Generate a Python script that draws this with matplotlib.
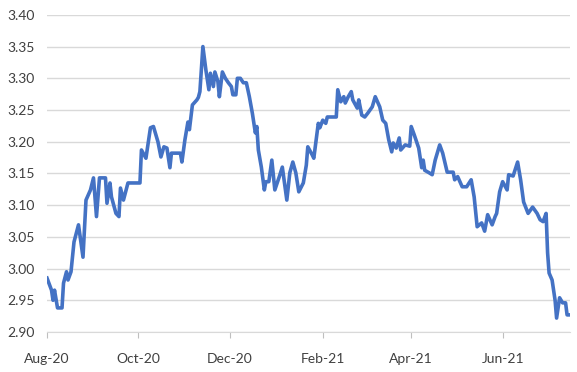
import matplotlib
matplotlib.use('Agg')
from matplotlib import pyplot as plt
import matplotlib.dates as mdates
import pandas as pd

dates = [
    '2020-08-01', '2020-08-04', '2020-08-05', '2020-08-06', '2020-08-08', '2020-08-11',
    '2020-08-12', '2020-08-14', '2020-08-15', '2020-08-17', '2020-08-19', '2020-08-22',
    '2020-08-25', '2020-08-27', '2020-08-30', '2020-09-01', '2020-09-03', '2020-09-05',
    '2020-09-09', '2020-09-10', '2020-09-12', '2020-09-13', '2020-09-16', '2020-09-18',
    '2020-09-19', '2020-09-21', '2020-09-24', '2020-10-02', '2020-10-03', '2020-10-06',
    '2020-10-09', '2020-10-11', '2020-10-14', '2020-10-16', '2020-10-18', '2020-10-20',
    '2020-10-22', '2020-10-23', '2020-10-29', '2020-10-30', '2020-11-01', '2020-11-03',
    '2020-11-04', '2020-11-06', '2020-11-09', '2020-11-10', '2020-11-11', '2020-11-13',
    '2020-11-15', '2020-11-17', '2020-11-18', '2020-11-20', '2020-11-21', '2020-11-23',
    '2020-11-24', '2020-11-26', '2020-11-28', '2020-11-30', '2020-12-02', '2020-12-03',
    '2020-12-05', '2020-12-06', '2020-12-08', '2020-12-10', '2020-12-12', '2020-12-14',
    '2020-12-16', '2020-12-18', '2020-12-19', '2020-12-20', '2020-12-22', '2020-12-24',
    '2020-12-25', '2020-12-27', '2020-12-29', '2020-12-31', '2021-01-03', '2021-01-05',
    '2021-01-08', '2021-01-10', '2021-01-12', '2021-01-14', '2021-01-16', '2021-01-19',
    '2021-01-21', '2021-01-22', '2021-01-25', '2021-01-26', '2021-01-29', '2021-01-30',
    '2021-02-01', '2021-02-03', '2021-02-04', '2021-02-10', '2021-02-11', '2021-02-13',
    '2021-02-15', '2021-02-16', '2021-02-18', '2021-02-20', '2021-02-21', '2021-02-24',
    '2021-02-25', '2021-02-27', '2021-03-01', '2021-03-03', '2021-03-06', '2021-03-08',
    '2021-03-11', '2021-03-13', '2021-03-15', '2021-03-17', '2021-03-19', '2021-03-20',
    '2021-03-22', '2021-03-24', '2021-03-25', '2021-03-28', '2021-03-31', '2021-04-01',
    '2021-04-03', '2021-04-06', '2021-04-08', '2021-04-09', '2021-04-10', '2021-04-13',
    '2021-04-15', '2021-04-17', '2021-04-20', '2021-04-22', '2021-04-25', '2021-04-29',
    '2021-04-30', '2021-05-02', '2021-05-05', '2021-05-08', '2021-05-11', '2021-05-13',
    '2021-05-15', '2021-05-18', '2021-05-20', '2021-05-22', '2021-05-25', '2021-05-27',
    '2021-05-28', '2021-05-30', '2021-06-01', '2021-06-04', '2021-06-05', '2021-06-08',
    '2021-06-11', '2021-06-13', '2021-06-15', '2021-06-18', '2021-06-21', '2021-06-24',
    '2021-06-26', '2021-06-28', '2021-06-30', '2021-07-01', '2021-07-02', '2021-07-04',
    '2021-07-06', '2021-07-07', '2021-07-09', '2021-07-11', '2021-07-13', '2021-07-14',
    '2021-07-16',
]

values = [
    2.985, 2.966, 2.950, 2.966, 2.938, 2.938,
    2.977, 2.995, 2.982, 2.995, 3.042, 3.069,
    3.018, 3.108, 3.124, 3.143, 3.082, 3.143,
    3.143, 3.103, 3.135, 3.113, 3.087, 3.082,
    3.127, 3.108, 3.135, 3.135, 3.187, 3.174,
    3.222, 3.224, 3.200, 3.176, 3.192, 3.190,
    3.159, 3.182, 3.182, 3.168, 3.203, 3.231,
    3.219, 3.258, 3.266, 3.270, 3.279, 3.350,
    3.313, 3.282, 3.308, 3.287, 3.310, 3.295,
    3.271, 3.310, 3.300, 3.293, 3.287, 3.274,
    3.274, 3.300, 3.300, 3.293, 3.293, 3.271,
    3.245, 3.214, 3.224, 3.187, 3.160, 3.124,
    3.137, 3.137, 3.171, 3.124, 3.145, 3.160,
    3.108, 3.151, 3.168, 3.151, 3.121, 3.135,
    3.163, 3.192, 3.179, 3.174, 3.229, 3.222,
    3.234, 3.229, 3.239, 3.239, 3.282, 3.263,
    3.271, 3.261, 3.271, 3.279, 3.266, 3.253,
    3.266, 3.242, 3.239, 3.245, 3.255, 3.271,
    3.255, 3.234, 3.229, 3.203, 3.184, 3.198,
    3.190, 3.206, 3.187, 3.195, 3.193, 3.224,
    3.211, 3.190, 3.159, 3.171, 3.155, 3.151,
    3.148, 3.171, 3.195, 3.182, 3.152, 3.152,
    3.140, 3.145, 3.129, 3.129, 3.140, 3.113,
    3.066, 3.072, 3.059, 3.085, 3.069, 3.082,
    3.087, 3.121, 3.137, 3.124, 3.148, 3.146,
    3.168, 3.140, 3.105, 3.087, 3.097, 3.087,
    3.077, 3.074, 3.087, 3.025, 2.993, 2.982,
    2.950, 2.922, 2.954, 2.946, 2.946, 2.927,
    2.927,
]

x_start = '2020-08-01'
x_end = '2021-07-16'
tick_dates = ['2020-08-01', '2020-10-01', '2020-12-01', '2021-02-01', '2021-04-01', '2021-06-01']
y_ticks = [2.90, 2.95, 3.00, 3.05, 3.10, 3.15, 3.20, 3.25, 3.30, 3.35, 3.40]

plt.rcParams['font.family'] = ['Lato', 'DejaVu Sans']

fig = plt.figure(figsize=(5.77, 3.72), dpi=100)
ax = fig.add_axes([0.0815, 0.1075, 0.9065, 0.8525])

ax.plot(pd.to_datetime(dates), values, color='#4472C4', lw=2.6, solid_joinstyle='round')

ax.set_xlim(pd.Timestamp(x_start), pd.Timestamp(x_end))
ax.set_ylim(2.90, 3.40)
ax.set_yticks(y_ticks)
ax.yaxis.set_major_formatter(plt.FuncFormatter(lambda v, p: f'{v:.2f}'))
ax.set_xticks(pd.to_datetime(tick_dates))
ax.xaxis.set_major_formatter(mdates.DateFormatter('%b-%y'))

ax.grid(axis='y', color='#d9d9d9', lw=1)
ax.set_axisbelow(True)
for side in ['left', 'right', 'top']:
    ax.spines[side].set_visible(False)
ax.spines['bottom'].set_color('#d9d9d9')
ax.tick_params(axis='y', length=0, pad=9, labelsize=10, labelcolor='#404040')
ax.tick_params(axis='x', length=4, color='#bfbfbf', pad=11, labelsize=10, labelcolor='#404040')

fig.savefig('out.png', dpi=100)
